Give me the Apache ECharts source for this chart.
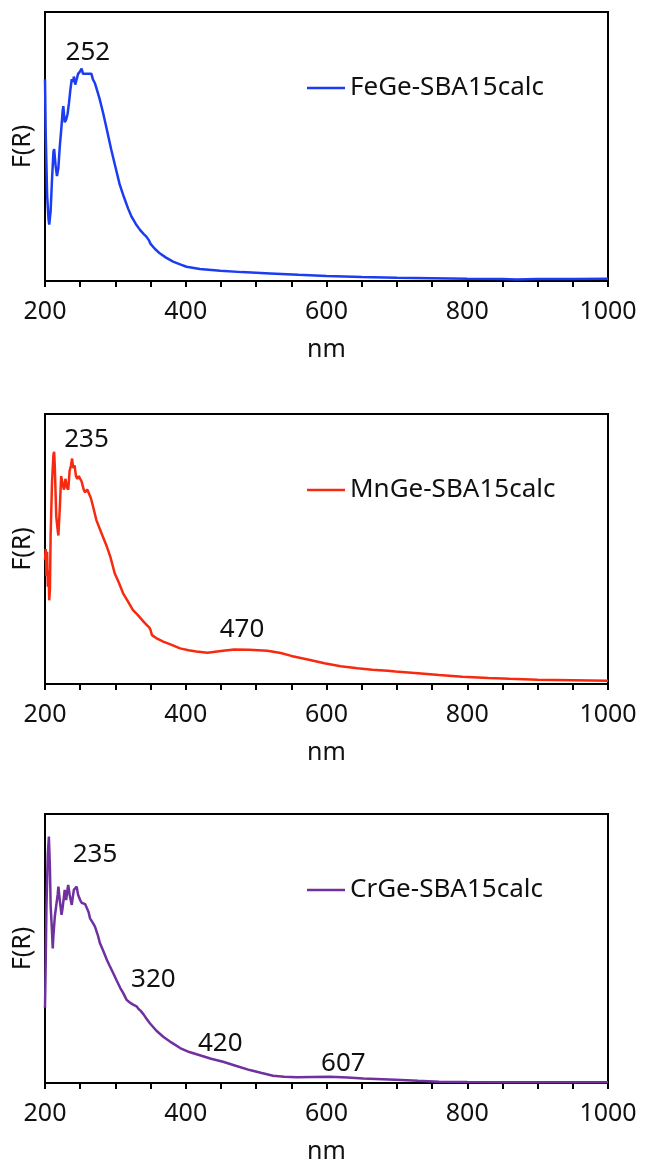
<!DOCTYPE html>
<html>
<head>
<meta charset="utf-8">
<script src="https://cdn.jsdelivr.net/npm/echarts@6/dist/echarts.min.js"></script>
<style>
  html, body { margin: 0; padding: 0; background: #fff; }
  #chart { width: 646px; height: 1170px; }
</style>
</head>
<body>
<div id="chart"></div>
<script>
// wavelength (nm) and F(R) (arbitrary units)
var feX = [200, 201, 203, 205, 206, 208, 210, 212, 213, 215, 217, 219, 221, 223, 225, 226, 228, 230, 232, 234, 236, 238, 240, 241, 243, 245, 247, 250, 252, 254, 256, 258, 261, 263, 266, 268, 271, 275, 278, 283, 288, 294, 300, 306, 312, 318, 323, 329, 335, 340, 344, 346, 348, 350, 356, 363, 372, 382, 392, 401, 420, 449, 480, 520, 560, 600, 650, 700, 750, 800, 850, 870, 900, 950, 1000]
var feY = [0.75, 0.55, 0.32, 0.23, 0.21, 0.26, 0.38, 0.48, 0.49, 0.43, 0.39, 0.42, 0.50, 0.56, 0.63, 0.65, 0.59, 0.60, 0.62, 0.66, 0.71, 0.75, 0.74, 0.76, 0.73, 0.75, 0.77, 0.78, 0.79, 0.77, 0.765, 0.77, 0.77, 0.765, 0.77, 0.75, 0.735, 0.70, 0.673, 0.62, 0.561, 0.49, 0.425, 0.36, 0.313, 0.27, 0.239, 0.212, 0.19, 0.175, 0.165, 0.162, 0.15, 0.138, 0.12, 0.103, 0.087, 0.072, 0.062, 0.053, 0.045, 0.038, 0.033, 0.028, 0.023, 0.019, 0.015, 0.012, 0.01, 0.008, 0.007, 0.006, 0.007, 0.007, 0.008]

var mnX = [200, 201, 202, 203, 204, 205, 206, 207, 208, 210, 212, 213, 214, 216, 218, 219, 221, 223, 225, 227, 229, 231, 233, 235, 237, 238.5, 240, 242, 244, 246, 248, 250, 252, 255, 257, 260, 262, 265, 268, 273, 280, 288, 293, 299, 305, 311, 318, 325, 332, 340, 344, 348, 350, 352, 358, 368, 380, 392, 404, 415, 431, 450, 469, 490, 516, 535, 550, 575, 597, 620, 644, 665, 687, 698, 730, 760, 793, 830, 860, 900, 950, 1000]
var mnY = [0.46, 0.50, 0.40, 0.49, 0.36, 0.42, 0.31, 0.35, 0.55, 0.75, 0.85, 0.86, 0.80, 0.62, 0.57, 0.55, 0.65, 0.77, 0.74, 0.72, 0.76, 0.73, 0.72, 0.79, 0.81, 0.835, 0.80, 0.81, 0.77, 0.76, 0.77, 0.77, 0.75, 0.72, 0.71, 0.72, 0.715, 0.69, 0.66, 0.607, 0.56, 0.508, 0.47, 0.41, 0.375, 0.336, 0.305, 0.274, 0.255, 0.231, 0.22, 0.21, 0.20, 0.181, 0.17, 0.157, 0.145, 0.132, 0.125, 0.12, 0.116, 0.122, 0.128, 0.127, 0.123, 0.115, 0.104, 0.09, 0.077, 0.066, 0.058, 0.053, 0.049, 0.046, 0.04, 0.033, 0.027, 0.022, 0.019, 0.016, 0.014, 0.012]

var crX = [200, 201, 202, 204, 205.5, 207, 208, 210, 211, 212, 214, 216, 218, 219, 221, 223.5, 225, 228, 230, 232, 233, 235, 238, 240, 241, 243, 245, 247, 250, 252, 254, 257, 259, 262, 264, 268, 271, 275, 278, 283, 288, 292, 297, 302, 307, 311, 316, 320, 323, 326, 330, 333, 336, 340, 344, 349, 358, 368, 380, 392, 405, 420, 436, 453, 472, 491, 508, 524, 540, 558, 580, 605, 630, 652, 680, 706, 730, 760, 800, 850, 900, 1000]
var crY = [0.28, 0.45, 0.65, 0.85, 0.916, 0.80, 0.66, 0.56, 0.50, 0.55, 0.62, 0.66, 0.70, 0.73, 0.68, 0.625, 0.65, 0.718, 0.68, 0.72, 0.736, 0.70, 0.662, 0.70, 0.718, 0.725, 0.73, 0.70, 0.68, 0.67, 0.668, 0.665, 0.662, 0.635, 0.612, 0.595, 0.581, 0.55, 0.52, 0.49, 0.457, 0.435, 0.408, 0.38, 0.353, 0.335, 0.309, 0.30, 0.295, 0.29, 0.285, 0.275, 0.268, 0.255, 0.24, 0.222, 0.195, 0.172, 0.15, 0.13, 0.115, 0.103, 0.09, 0.079, 0.063, 0.048, 0.037, 0.027, 0.023, 0.021, 0.022, 0.023, 0.02, 0.017, 0.014, 0.011, 0.008, 0.005, 0.004, 0.003, 0.003, 0.003]

var names = ['FeGe-SBA15calc', 'MnGe-SBA15calc', 'CrGe-SBA15calc']
var colors = ['#1c3cf2', '#f72a10', '#7030a0']
var xTicks = [200, 400, 600, 800, 1000]

// peak annotations [nm, F(R) position, text]
var feMarks = [[261, 0.848, '252']]
var mnMarks = [[259, 0.904, '235'], [480, 0.2, '470']]
var crMarks = [[271, 0.848, '235'], [354, 0.385, '320'], [449, 0.148, '420'], [624, 0.074, '607']]

var xs = [feX, mnX, crX]
var ys = [feY, mnY, crY]
var marks = [feMarks, mnMarks, crMarks]
var tops = [12, 414, 814]
var heights = [269, 270, 269]

var font = 'Noto Sans'
var ink = '#111'

var myChart = echarts.init(document.getElementById('chart'))

var grid = [], xAxis = [], yAxis = [], series = [], legend = []
for (var i = 0; i < 3; i++) {
  grid.push({
    left: 45, width: 563, top: tops[i], height: heights[i],
    show: true, borderColor: '#000', borderWidth: 2, backgroundColor: 'transparent'
  })
  xAxis.push({
    type: 'value', gridIndex: i, min: xTicks[0], max: xTicks[xTicks.length - 1], interval: 200,
    name: 'nm', nameLocation: 'middle', nameGap: 56,
    nameTextStyle: { fontSize: 25, color: ink, fontFamily: font },
    axisLine: { show: true, lineStyle: { color: '#000', width: 2 } },
    axisTick: { show: true, inside: false, length: 6, lineStyle: { color: '#000', width: 2 } },
    minorTick: { show: true, splitNumber: 4, length: 6, lineStyle: { color: '#000', width: 2 } },
    axisLabel: { fontSize: 25, color: ink, fontFamily: font, margin: 18, formatter: function(v) { return String(v) } },
    splitLine: { show: false }
  })
  yAxis.push({
    type: 'value', gridIndex: i, min: 0, max: 1,
    name: 'F(R)', nameLocation: 'middle', nameGap: 10, nameRotate: 90,
    nameTextStyle: { fontSize: 25, color: ink, fontFamily: font },
    axisLine: { show: true, lineStyle: { color: '#000', width: 2 } },
    axisTick: { show: false },
    axisLabel: { show: false },
    splitLine: { show: false }
  })
  var pts = xs[i].map(function(x, k) { return [x, ys[i][k]] })
  series.push({
    name: names[i], type: 'line', xAxisIndex: i, yAxisIndex: i,
    data: pts, symbol: 'none', smooth: false,
    lineStyle: { color: colors[i], width: 2.5 },
    itemStyle: { color: colors[i] },
    markPoint: {
      silent: true, symbol: 'circle', symbolSize: 0,
      label: { show: true, position: 'inside', formatter: '{b}', fontSize: 26, color: ink, fontFamily: font },
      data: marks[i].map(function(m) { return { coord: [m[0], m[1]], name: m[2] } })
    }
  })
  legend.push({
    data: [names[i]], left: 307, top: tops[i] + 63, padding: 0,
    icon: 'rect', itemWidth: 38, itemHeight: 2.5,
    textStyle: { fontSize: 26, color: ink, fontFamily: font }
  })
}

myChart.setOption({
  animation: false,
  backgroundColor: '#fff',
  textStyle: { fontFamily: font },
  grid: grid,
  xAxis: xAxis,
  yAxis: yAxis,
  legend: legend,
  series: series
})
</script>
</body>
</html>
